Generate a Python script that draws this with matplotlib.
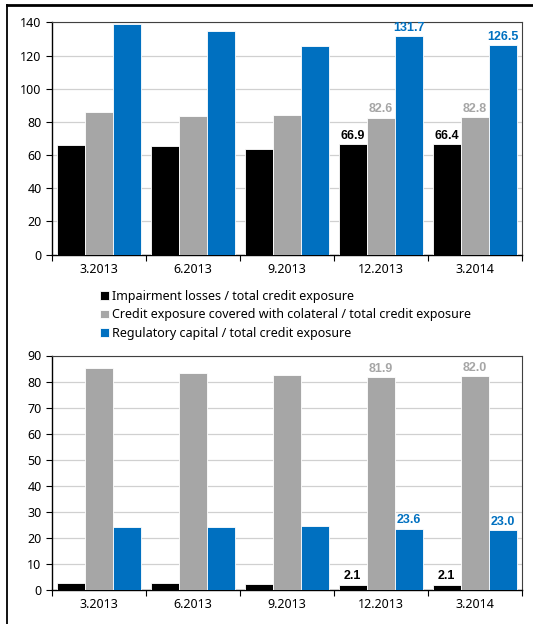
import matplotlib
matplotlib.use("Agg")
import matplotlib.pyplot as plt
from matplotlib.lines import Line2D
import numpy as np

plt.rcParams['font.family'] = ['Noto Sans', 'DejaVu Sans']

categories = ["3.2013", "6.2013", "9.2013", "12.2013", "3.2014"]
series_names = ["Impairment losses / total credit exposure",
                "Credit exposure covered with colateral / total credit exposure",
                "Regulatory capital / total credit exposure"]
colors = ["#000000", "#a6a6a6", "#0070c0"]

top_impair = [65.9, 65.3, 63.4, 66.9, 66.4]
top_collat = [85.9, 83.4, 84.2, 82.6, 82.8]
top_regcap = [138.9, 134.6, 126.0, 131.7, 126.5]

bot_impair = [2.6, 2.8, 2.4, 2.1, 2.1]
bot_collat = [85.1, 83.1, 82.4, 81.9, 82.0]
bot_regcap = [24.1, 24.3, 24.6, 23.6, 23.0]

labeled = [3, 4]

W, H = 533, 624
fig = plt.figure(figsize=(W / 100, H / 100), dpi=100)

def make_ax(left, right, top, bottom):
    return fig.add_axes([left / W, 1 - bottom / H, (right - left) / W, (bottom - top) / H])

ax1 = make_ax(52, 522, 22.4, 254.5)
ax2 = make_ax(52, 522, 355.5, 590)

def draw(ax, data, ymax, ystep):
    x = np.arange(len(categories))
    bw = 0.3
    handles = []
    for i, (vals, c) in enumerate(zip(data, colors)):
        b = ax.bar(x + (i - 1) * bw, vals, bw, color=c, edgecolor="white",
                   linewidth=0.6, zorder=3, label=series_names[i])
        handles.append(b)
        for j in labeled:
            ax.annotate(f"{vals[j]:.1f}", (x[j] + (i - 1) * bw, vals[j]),
                        xytext=(0, 1.5), textcoords="offset points",
                        ha="center", va="bottom", fontsize=9, fontweight="bold",
                        family=["Liberation Sans", "DejaVu Sans"],
                        color=c, zorder=4)
    ax.set_xlim(-0.5, len(categories) - 0.5)
    ax.set_ylim(0, ymax)
    ax.set_yticks(np.arange(0, ymax + 1, ystep))
    ax.set_xticks(x)
    ax.set_xticklabels(categories)
    ax.set_xticks(np.arange(-0.5, len(categories), 1), minor=True)
    ax.tick_params(axis="x", which="major", length=0, pad=6, labelsize=9)
    ax.tick_params(axis="x", which="minor", length=4.5, width=0.8, direction="out")
    ax.tick_params(axis="y", length=4.5, width=0.8, direction="out", pad=3, labelsize=9)
    ax.yaxis.grid(True, color="#d0d0d0", linewidth=0.9, zorder=0)
    ax.set_axisbelow(True)
    for s in ["left", "bottom"]:
        ax.spines[s].set_color("black")
        ax.spines[s].set_linewidth(1.0)
    for s in ["top", "right"]:
        ax.spines[s].set_color("#404040")
        ax.spines[s].set_linewidth(0.8)
    return handles

handles = draw(ax1, [top_impair, top_collat, top_regcap], 140, 20)
draw(ax2, [bot_impair, bot_collat, bot_regcap], 90, 10)

fig.legend(handles=handles, labels=series_names, loc="upper left",
           bbox_to_anchor=(100 / W, 1 - 290 / H), frameon=False, fontsize=9,
           handlelength=0.7, handleheight=0.7, handletextpad=0.25,
           labelspacing=0.42, borderpad=0, borderaxespad=0)

# outer frame lines
fig.add_artist(Line2D([7 / W, 1], [1 - 4.5 / H, 1 - 4.5 / H], color="black", linewidth=2.0))
fig.add_artist(Line2D([7.3 / W, 7.3 / W], [1 - 4.5 / H, 0], color="black", linewidth=1.3))

fig.savefig("out.png", dpi=100)
